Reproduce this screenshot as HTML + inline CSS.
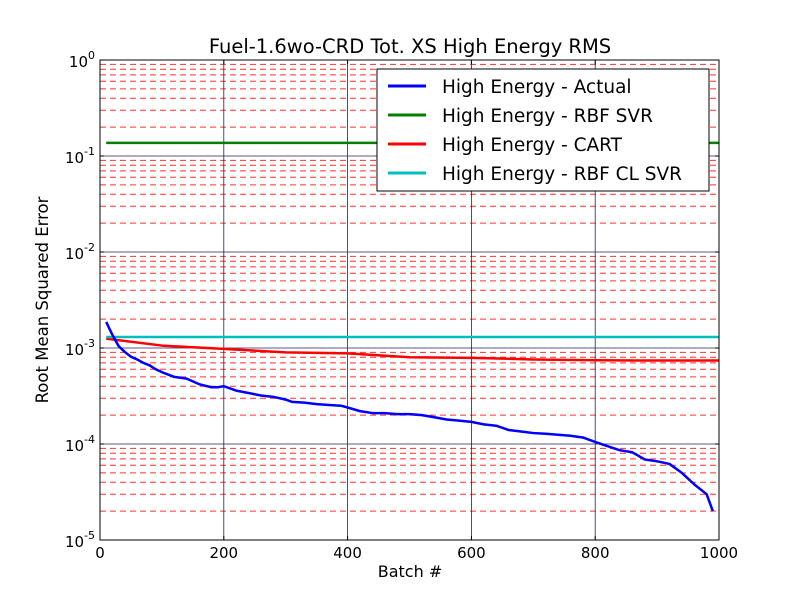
<!DOCTYPE html>
<html><head><meta charset="utf-8"><style>
body{margin:0;background:#fff;font-family:"Liberation Sans","DejaVu Sans",sans-serif;}
</style></head><body>
<svg id="chart" width="800" height="600" xmlns="http://www.w3.org/2000/svg" font-family="DejaVu Sans, Liberation Sans, sans-serif">
<rect width="800" height="600" fill="#fff"/>
<g id="grid"></g><g id="series"></g><g id="axes"></g>
</svg>
<script>
const batches=[10,20,30,40,50,60,70,80,90,100,120,140,160,180,190,200,220,240,260,280,300,310,330,350,370,390,400,420,440,460,480,500,520,540,560,580,600,620,640,660,680,700,720,740,760,780,800,820,840,860,880,900,920,940,960,980,990];
const actual=[1.87e-3,1.37e-3,1.05e-3,9.1e-4,8.1e-4,7.6e-4,7.0e-4,6.6e-4,6.0e-4,5.6e-4,5.0e-4,4.8e-4,4.2e-4,3.9e-4,3.9e-4,4.0e-4,3.6e-4,3.4e-4,3.2e-4,3.1e-4,2.9e-4,2.75e-4,2.7e-4,2.6e-4,2.55e-4,2.5e-4,2.4e-4,2.2e-4,2.1e-4,2.1e-4,2.05e-4,2.05e-4,2.0e-4,1.9e-4,1.8e-4,1.75e-4,1.7e-4,1.6e-4,1.55e-4,1.4e-4,1.35e-4,1.3e-4,1.28e-4,1.25e-4,1.22e-4,1.17e-4,1.05e-4,9.5e-5,8.6e-5,8.2e-5,6.9e-5,6.6e-5,6.2e-5,5.0e-5,3.8e-5,3.0e-5,2.0e-5];
const cartX=[10,100,200,300,400,500,600,700,800,900,1000];
const cart=[1.25e-3,1.06e-3,9.8e-4,9.0e-4,8.8e-4,8.0e-4,7.9e-4,7.6e-4,7.45e-4,7.4e-4,7.4e-4];
const svrX=[10,1000];
const rbfSvr=[0.137,0.137];
const clSvr=[1.3e-3,1.3e-3];
const xTicks=[0,200,400,600,800,1000];
const yExps=[-5,-4,-3,-2,-1,0];
const legendLabels=["High Energy - Actual","High Energy - RBF SVR","High Energy - CART","High Energy - RBF CL SVR"];
const colors=["#0000ff","#008000","#ff0000","#00bfbf"];

const L=100,R=719,T=60,B=540;
const xs=v=>L+(v/1000)*(R-L);
const ys=v=>B-(Math.log10(v)+5)*(B-T)/5;
const NS="http://www.w3.org/2000/svg";
function mk(tag,attrs,parent){const e=document.createElementNS(NS,tag);for(const k in attrs)e.setAttribute(k,attrs[k]);parent.appendChild(e);return e;}
const grid=document.getElementById('grid'),ser=document.getElementById('series'),ax=document.getElementById('axes');
for(let d=-5;d<0;d++)for(let m=2;m<=9;m++){const y=ys(m*Math.pow(10,d));
 const l=mk('line',{x1:L,x2:R,y1:y,y2:y,stroke:'#ff3030','stroke-width':1,'stroke-dasharray':'6,4'},grid);
 
 }
yExps.forEach(e=>{const y=ys(Math.pow(10,e));
 const l=mk('line',{x1:L,x2:R,y1:y,y2:y,stroke:'#202060','stroke-width':0.8},grid);
 
 });
xTicks.forEach(t=>{const x=xs(t);
 const l=mk('line',{x1:x,x2:x,y1:T,y2:B,stroke:'#202060','stroke-width':0.8},grid);
 
 });
function line(xa,ya,c,name){const p=mk('polyline',{points:xa.map((x,i)=>xs(x)+','+ys(ya[i])).join(' '),fill:'none',stroke:c,'stroke-width':2.5,'stroke-linejoin':'round'},ser);
 
 }
line(svrX,rbfSvr,colors[1],'rbf-svr-line');
line(cartX,cart,colors[2],'cart-line');
line(svrX,clSvr,colors[3],'rbf-cl-svr-line');
line(batches,actual,colors[0],'actual-line');
const f=mk('rect',{x:L,y:T,width:R-L,height:B-T,fill:'none',stroke:'#000','stroke-width':1},ax);


xTicks.forEach(t=>{const x=xs(t);
 mk('line',{x1:x,x2:x,y1:B,y2:B-4,stroke:'#000'},ax);mk('line',{x1:x,x2:x,y1:T,y2:T+4,stroke:'#000'},ax);
 const tx=mk('text',{x:x,y:B+18,'font-size':15,'text-anchor':'middle'},ax);tx.textContent=t;
 
 });
yExps.forEach(e=>{const y=ys(Math.pow(10,e));
 mk('line',{x1:L,x2:L+4,y1:y,y2:y,stroke:'#000'},ax);mk('line',{x1:R,x2:R-4,y1:y,y2:y,stroke:'#000'},ax);
 const tx=mk('text',{x:L-5,y:y+7,'font-size':15,'text-anchor':'end'},ax);
 tx.innerHTML='10<tspan dy="-8" font-size="11">'+e+'</tspan>';
 
 });
let t=mk('text',{x:410,y:53,'font-size':19.5,'text-anchor':'middle'},ax);t.textContent='Fuel-1.6wo-CRD Tot. XS High Energy RMS';


t=mk('text',{x:410,y:577,'font-size':16,'text-anchor':'middle'},ax);t.textContent='Batch #';


t=mk('text',{x:48,y:300,'font-size':16.5,'text-anchor':'middle',transform:'rotate(-90 48 300)'},ax);t.textContent='Root Mean Squared Error';


const lg=mk('g',{},ax);


mk('rect',{x:377,y:69,width:332,height:122,fill:'#fff',stroke:'#000','stroke-width':1},lg);
legendLabels.forEach((s,i)=>{const y=86+i*29;
 const g=mk('g',{},lg);
 
 
 mk('line',{x1:388,x2:426,y1:y,y2:y,stroke:colors[i],'stroke-width':3},g);
 const tx=mk('text',{x:442,y:y+7,'font-size':18.5},g);tx.textContent=s;});
</script>
</body></html>
